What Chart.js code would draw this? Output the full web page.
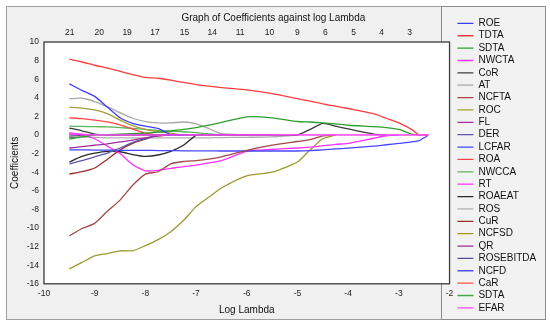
<!DOCTYPE html>
<html lang="en">
<head>
    <meta charset="UTF-8">
    <title>Graph of Coefficients against log Lambda</title>
    <script src="https://cdn.jsdelivr.net/npm/chart.js"></script>
    <style>
        body { margin: 0; background: #fff; }
        #wrap { width: 550px; height: 327px; }
    </style>
</head>
<body>
    <div id="wrap"><canvas id="coefChart"></canvas></div>

    <script>
        const logLambda = [-9.5, -9.25, -9.0, -8.75, -8.5, -8.25, -8.0, -7.75, -7.5, -7.25, -7.0, -6.75, -6.5,
                           -6.0, -5.5, -5.0, -4.75, -4.5, -4.25, -4.0, -3.5, -3.25, -3.0, -2.75, -2.6, -2.5, -2.42];

        // top axis: number of non-zero coefficients
        const topTickPos = [-9.49, -8.91, -8.36, -7.81, -7.23, -6.68, -6.13, -5.55, -5.0, -4.45, -3.89, -3.34, -2.79];
        const topTickLabels = ['21', '20', '19', '17', '15', '14', '11', '10', '9', '6', '5', '4', '3'];

        // coefficient paths (each stops once it has reached 0)
        const coefROE = [5.5, 4.8, 4.15, 3.0, 1.85, 1.25, 0.95, 0.7, 0.05, 0];
        const coefTDTA = [8.15, 7.85, 7.5, 7.2, 6.85, 6.5, 6.2, 6.1, 5.9, 5.65, 5.42, 5.25, 5.1, 4.85, 4.45, 3.9, 3.65, 3.35, 3.1, 2.85, 2.3, 1.8, 1.3, 0.6, 0, 0, 0];
        const coefSDTA = [-0.45, -0.2, 0.0, 0.05, 0.1, 0.15, 0.2, 0.3, 0.45, 0.6, 0.8, 1.05, 1.35, 1.95, 1.85, 1.45, 1.4, 1.3, 1.2, 1.05, 0.9, 0.8, 0.6, 0.1, 0];
        const coefNWCTA = [0.25, 0.1, 0];
        const coefCoR = [0.75, 0.45, 0.1, 0, 0, 0, 0, 0, 0, 0, 0, 0, 0, 0, 0, 0, 0.6, 1.25, 0.95, 0.65, 0.1, 0];
        const coefAT = [3.9, 3.95, 3.6, 3.05, 2.4, 1.8, 1.45, 1.3, 1.3, 1.4, 1.2, 0.7, 0.15, 0];
        const coefNCFTA = [-10.85, -10.05, -9.5, -8.2, -7.0, -5.4, -4.2, -3.95, -3.1, -2.85, -2.75, -2.6, -2.35, -1.65, -1.1, -0.7, -0.5, -0.1, 0];
        const coefROC = [3.0, 2.9, 2.7, 2.3, 1.6, 1.0, 0.6, 0.35, 0.2, 0];
        const coefFL = [-1.4, -1.25, -1.1, -0.95, -0.75, -0.55, -0.3, -0.1, 0];
        const coefDER = [-3.1, -2.75, -2.35, -1.95, -1.4, -0.8, -0.4, -0.05, 0];
        const coefLCFAR = [-1.6, -1.6, -1.62, -1.63, -1.65, -1.65, -1.65, -1.67, -1.68, -1.7, -1.7, -1.7, -1.72, -1.72, -1.72, -1.72, -1.68, -1.6, -1.5, -1.42, -1.2, -1.05, -0.9, -0.75, -0.6, -0.3, 0];
        const coefROA = [1.85, 1.75, 1.6, 1.4, 1.1, 0.65, 0.2, 0];
        const coefNWCCA = [0.95, 0.92, 0.9, 0.87, 0.8, 0.7, 0.6, 0.5, 0.42, 0.35, 0.25, 0.12, 0];
        const coefRT = [0.15, 0.05, -0.4, -1.2, -2.0, -3.2, -3.85, -3.8, -3.6, -3.4, -3.25, -3.0, -2.75, -1.75, -1.55, -1.4, -1.3, -1.15, -1.0, -0.9, -0.35, -0.08, 0];
        const coefROAEAT = [-2.9, -2.3, -1.95, -1.75, -1.8, -2.1, -2.3, -2.15, -1.75, -1.1, 0];
        const coefROS = [-0.1, -0.2, -0.25, -0.3, -0.3, -0.3, -0.3, -0.3, -0.3, -0.3, -0.3, -0.3, -0.28, -0.25, -0.2, 0];
        const coefCuR = [-4.2, -3.95, -3.55, -2.6, -1.6, -0.9, -0.45, -0.1, 0];
        const coefNCFSD = [-14.4, -13.7, -13.0, -12.75, -12.45, -12.45, -11.9, -11.25, -10.4, -9.2, -7.7, -6.7, -5.7, -4.4, -4.0, -2.9, -1.6, -0.4, 0];
        const coefQR = [-0.2, -0.1, 0];
        const coefROSEBITDA = [-0.15, -0.05, 0];
        const coefNCFD = [-0.05, -0.05, 0];
        const coefCaR = [0.1, 0.05, 0];
        const coefSDTA2 = [-0.3, -0.15, 0];
        const coefEFAR = [0.15, 0.05, 0, 0, 0, 0, 0, 0, 0, 0, 0, 0, 0, 0, 0, 0, 0, 0, 0, 0, 0, 0, 0, 0, 0, 0, 0];

        const seriesNames = ['ROE', 'TDTA', 'SDTA', 'NWCTA', 'CoR', 'AT', 'NCFTA', 'ROC', 'FL', 'DER', 'LCFAR', 'ROA',
                             'NWCCA', 'RT', 'ROAEAT', 'ROS', 'CuR', 'NCFSD', 'QR', 'ROSEBITDA', 'NCFD', 'CaR', 'SDTA', 'EFAR'];
        const seriesValues = [coefROE, coefTDTA, coefSDTA, coefNWCTA, coefCoR, coefAT, coefNCFTA, coefROC, coefFL, coefDER, coefLCFAR, coefROA,
                              coefNWCCA, coefRT, coefROAEAT, coefROS, coefCuR, coefNCFSD, coefQR, coefROSEBITDA, coefNCFD, coefCaR, coefSDTA2, coefEFAR];
        const seriesColors = ['#3c3cff', '#ff3c3c', '#2ca02c', '#ff3cff', '#3c3c3c', '#a8a8a8', '#a04848', '#a0a038', '#9c309c', '#5a5aa8', '#4646ff', '#ff4646',
                              '#5ab45a', '#ff30ff', '#2a2a2a', '#b0b0b0', '#9a2e2e', '#9a9a30', '#963096', '#50509a', '#5050ff', '#ff5050', '#46a846', '#ff46ff'];

        const FONT = "'Liberation Sans', Arial, sans-serif";

        // grey frame, legend panel and white plot area
        const framePlugin = {
            id: 'frame',
            beforeDraw(chart) {
                const { ctx, chartArea: a } = chart;
                ctx.save();
                ctx.fillStyle = '#f0f0f0';
                ctx.fillRect(6, 6, 540, 314);
                ctx.strokeStyle = '#a0a0a0';
                ctx.lineWidth = 1;
                ctx.strokeRect(6.5, 6.5, 539, 313);
                ctx.fillStyle = '#f2f2f2';
                ctx.fillRect(441, 6, 105, 314);
                ctx.strokeStyle = '#8c8c8c';
                ctx.strokeRect(441.5, 6.5, 104, 313);
                ctx.fillStyle = '#fff';
                ctx.fillRect(a.left, a.top, a.right - a.left, a.bottom - a.top);
                ctx.restore();
            },
            afterDatasetsDraw(chart) {
                const { ctx, chartArea: a } = chart;
                ctx.save();
                ctx.strokeStyle = '#3a3a3a';
                ctx.lineWidth = 1.3;
                ctx.strokeRect(a.left, a.top, a.right - a.left, a.bottom - a.top);
                ctx.restore();
            }
        };

        // move legend entries a little right, over the grey panel
        const legendNudge = {
            id: 'legendNudge',
            afterLayout(chart) {
                chart.legend.left += 5.5;
                chart.legend.right += 5.5;
            }
        };

        const datasets = seriesNames.map((name, i) => ({
            label: name,
            data: seriesValues[i].map((v, j) => ({ x: logLambda[j], y: v })),
            borderColor: seriesColors[i],
            backgroundColor: seriesColors[i],
            borderWidth: 1.3,
            pointRadius: 0,
            tension: 0.2,
            fill: false,
            order: name === 'EFAR' ? -1 : 0
        }));

        new Chart(document.getElementById('coefChart'), {
            type: 'line',
            data: { datasets: datasets },
            options: {
                responsive: true,
                maintainAspectRatio: false,
                animation: false,
                layout: { padding: { top: 16, left: 6, right: 9.3, bottom: 7 } },
                plugins: {
                    title: {
                        display: true,
                        text: 'Graph of Coefficients against log Lambda',
                        color: '#111',
                        font: { family: FONT, size: 10, weight: 'normal' },
                        padding: { top: -3.7, bottom: -1.5 }
                    },
                    legend: {
                        position: 'right',
                        align: 'start',
                        labels: {
                            usePointStyle: true,
                            pointStyle: 'line',
                            pointStyleWidth: 16,
                            padding: 2.37,
                            color: '#111',
                            font: { family: FONT, size: 10 },
                            sort: (a, b) => a.datasetIndex - b.datasetIndex
                        }
                    },
                    tooltip: { enabled: false }
                },
                scales: {
                    x: {
                        type: 'linear',
                        position: 'bottom',
                        min: -10,
                        max: -2,
                        grid: { display: false, drawTicks: false },
                        border: { display: false },
                        ticks: { stepSize: 1, padding: 5, color: '#222', font: { family: FONT, size: 8.5 } },
                        title: { display: true, text: 'Log Lambda', color: '#111', font: { family: FONT, size: 10 }, padding: { top: 0, bottom: 4 } }
                    },
                    x2: {
                        type: 'linear',
                        position: 'top',
                        min: -10,
                        max: -2,
                        grid: { display: false, drawTicks: false },
                        border: { display: false },
                        afterBuildTicks: (scale) => { scale.ticks = topTickPos.map(v => ({ value: v })); },
                        ticks: {
                            autoSkip: false,
                            padding: 4.5,
                            color: '#222',
                            font: { family: FONT, size: 8.5 },
                            callback: (v, i) => topTickLabels[i]
                        }
                    },
                    y: {
                        type: 'linear',
                        min: -16,
                        max: 10,
                        grid: { display: false, drawTicks: false },
                        border: { display: false },
                        ticks: { stepSize: 2, padding: 5, color: '#222', font: { family: FONT, size: 8.5 } },
                        title: { display: true, text: 'Coefficients', color: '#111', font: { family: FONT, size: 10 }, padding: { top: 3, bottom: 0.7 } }
                    }
                }
            },
            plugins: [framePlugin, legendNudge]
        });
    </script>
</body>
</html>
